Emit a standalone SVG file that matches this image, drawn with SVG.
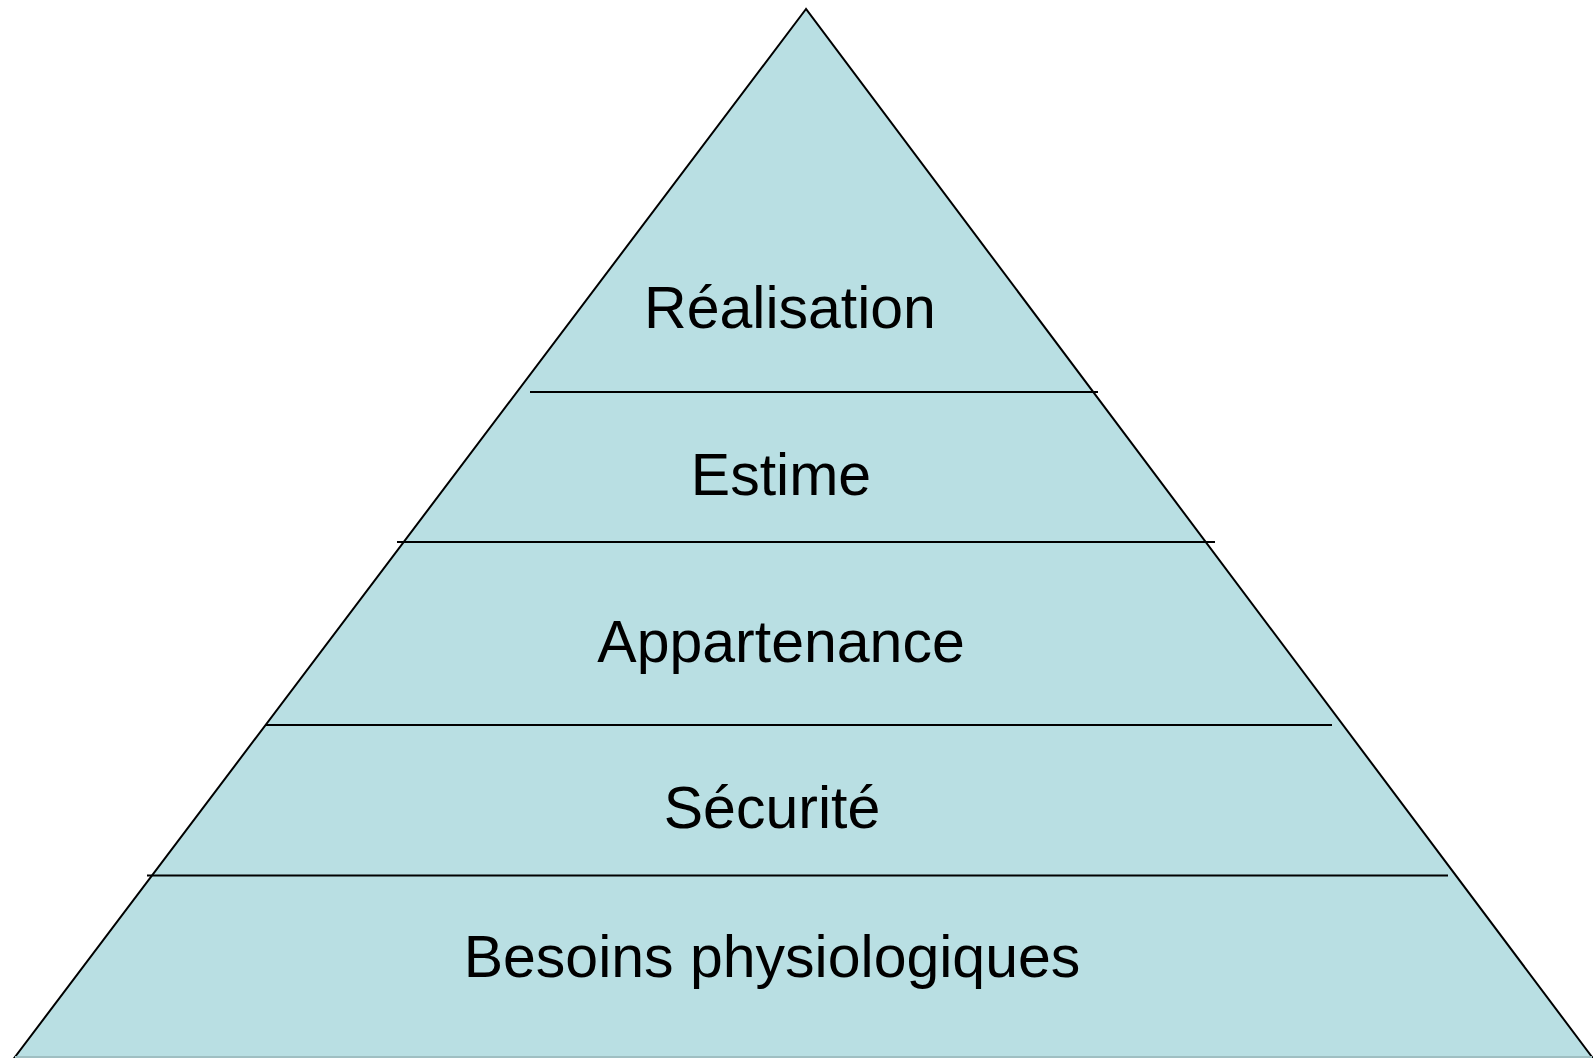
<svg xmlns="http://www.w3.org/2000/svg" width="1593" height="1058" viewBox="0 0 1593 1058">
<style>
.lbl{font-family:"Liberation Sans",Arial,sans-serif;font-size:59px;fill:#000;text-anchor:middle}
.div{stroke:#000;stroke-width:2;fill:none}
</style>
<rect width="1593" height="1058" fill="#fff"/>
<g id="pyramid">
<polygon points="806,9 15,1057 1592,1057" fill="#B9DFE3" stroke="#000" stroke-width="2"/>
<line x1="15" y1="1057" x2="1592" y2="1057" stroke="#9fbfc2" stroke-width="2"/>
</g>
<g id="connectors">
<line class="div" x1="530" y1="392" x2="1098" y2="392"/>
<line class="div" x1="397" y1="542" x2="1215" y2="542"/>
<line class="div" x1="265" y1="725" x2="1332" y2="725"/>
<line class="div" x1="147" y1="875.5" x2="1448" y2="875.5"/>
</g>
<g id="n1"><text class="lbl" x="790" y="328">Réalisation</text></g>
<g id="n2"><text class="lbl" x="781" y="495">Estime</text></g>
<g id="n3"><text class="lbl" x="781" y="662">Appartenance</text></g>
<g id="n4"><text class="lbl" x="772" y="828">Sécurité</text></g>
<g id="n5"><text class="lbl" x="772" y="977">Besoins physiologiques</text></g>
</svg>
